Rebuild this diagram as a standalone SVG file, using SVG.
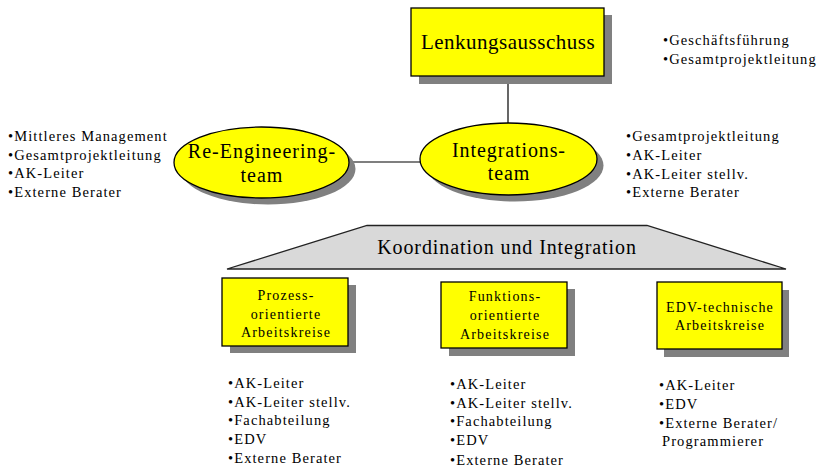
<svg xmlns="http://www.w3.org/2000/svg" width="822" height="469" viewBox="0 0 822 469">
  <style>
    text { font-family: "Liberation Serif", "Times New Roman", serif; fill: #000; }
    .node { fill: #ffff00; stroke: #000; stroke-width: 1.3; }
    .shadow { fill: #808080; stroke: none; }
    .big { font-size: 20px; letter-spacing: 0.9px; text-anchor: middle; }
    .box { font-size: 14px; letter-spacing: 1.2px; text-anchor: middle; }
    .list { font-size: 14.5px; letter-spacing: 1.1px; }
    .link { stroke: #000; stroke-width: 1.2; fill: none; }
  </style>

  <!-- connectors -->
  <g id="connectors">
    <line class="link" x1="508" y1="76" x2="508" y2="124"/>
    <line class="link" x1="349" y1="162" x2="421" y2="162"/>
  </g>

  <!-- steering committee -->
  <g id="lenkungsausschuss">
    <rect class="shadow" x="419" y="15" width="193" height="69"/>
    <rect class="node" x="411" y="8" width="193" height="68"/>
    <text class="big" x="508" y="49" style="font-size:21px;letter-spacing:0.5px">Lenkungsausschuss</text>
  </g>
  <g id="lenkungsausschuss-members">
    <text class="list" x="663" y="45">•Geschäftsführung</text>
    <text class="list" x="663" y="64">•Gesamtprojektleitung</text>
  </g>

  <!-- re-engineering team -->
  <g id="reengineering">
    <ellipse class="shadow" cx="268" cy="169" rx="87.5" ry="35.5"/>
    <ellipse class="node" cx="261.5" cy="162.5" rx="87.5" ry="35.5"/>
    <text class="big" x="262" y="158" style="letter-spacing:1px">Re-Engineering-</text>
    <text class="big" x="262" y="182" style="letter-spacing:1px">team</text>
  </g>
  <g id="reengineering-members">
    <text class="list" x="8" y="141">•Mittleres Management</text>
    <text class="list" x="8" y="160">•Gesamtprojektleitung</text>
    <text class="list" x="8" y="178">•AK-Leiter</text>
    <text class="list" x="8" y="197">•Externe Berater</text>
  </g>

  <!-- integration team -->
  <g id="integration">
    <ellipse class="shadow" cx="515" cy="165.5" rx="88.5" ry="36"/>
    <ellipse class="node" cx="508.5" cy="159" rx="88.5" ry="36"/>
    <text class="big" x="509" y="157">Integrations-</text>
    <text class="big" x="509" y="180">team</text>
  </g>
  <g id="integration-members">
    <text class="list" x="626" y="141">•Gesamtprojektleitung</text>
    <text class="list" x="626" y="160">•AK-Leiter</text>
    <text class="list" x="626" y="179">•AK-Leiter stellv.</text>
    <text class="list" x="626" y="197">•Externe Berater</text>
  </g>

  <!-- coordination bar -->
  <g id="koordination">
    <polygon points="367,225.5 647,225.5 786,269 227,269" fill="#d9d9d9" stroke="#222" stroke-width="1.3"/>
    <text class="big" x="507" y="254">Koordination und Integration</text>
  </g>

  <!-- working groups -->
  <g id="prozess">
    <rect class="shadow" x="230" y="285" width="126" height="68"/>
    <rect class="node" x="222" y="278" width="126" height="68"/>
    <text class="box" x="286" y="300">Prozess-</text>
    <text class="box" x="286" y="319">orientierte</text>
    <text class="box" x="286" y="337">Arbeitskreise</text>
  </g>
  <g id="prozess-members">
    <text class="list" x="228" y="388">•AK-Leiter</text>
    <text class="list" x="228" y="407">•AK-Leiter stellv.</text>
    <text class="list" x="228" y="425">•Fachabteilung</text>
    <text class="list" x="228" y="444">•EDV</text>
    <text class="list" x="228" y="463">•Externe Berater</text>
  </g>

  <g id="funktion">
    <rect class="shadow" x="449" y="289" width="126" height="67"/>
    <rect class="node" x="441" y="282" width="126" height="66"/>
    <text class="box" x="505" y="301">Funktions-</text>
    <text class="box" x="505" y="320">orientierte</text>
    <text class="box" x="505" y="339">Arbeitskreise</text>
  </g>
  <g id="funktion-members">
    <text class="list" x="450" y="389">•AK-Leiter</text>
    <text class="list" x="450" y="408">•AK-Leiter stellv.</text>
    <text class="list" x="450" y="426">•Fachabteilung</text>
    <text class="list" x="450" y="445">•EDV</text>
    <text class="list" x="450" y="465">•Externe Berater</text>
  </g>

  <g id="edv">
    <rect class="shadow" x="664" y="290" width="125" height="67"/>
    <rect class="node" x="657" y="282" width="125" height="67"/>
    <text class="box" x="720" y="312">EDV-technische</text>
    <text class="box" x="720" y="330">Arbeitskreise</text>
  </g>
  <g id="edv-members">
    <text class="list" x="659" y="390">•AK-Leiter</text>
    <text class="list" x="659" y="409">•EDV</text>
    <text class="list" x="659" y="428">•Externe Berater/</text>
    <text class="list" x="662" y="446">Programmierer</text>
  </g>
</svg>
